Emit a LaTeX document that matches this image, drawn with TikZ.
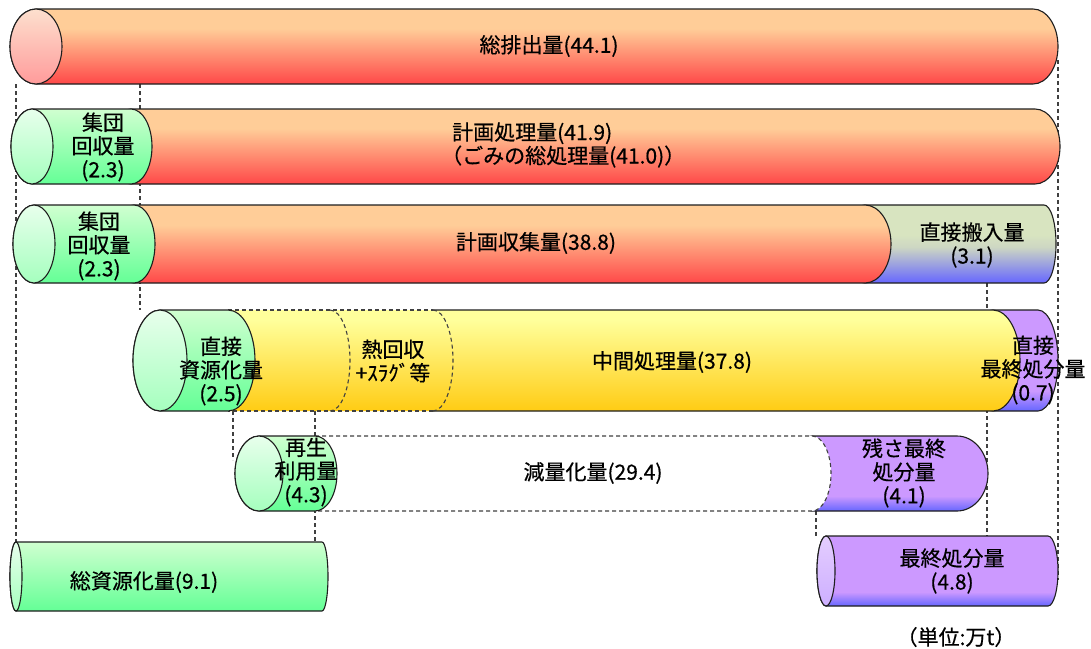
\documentclass[tikz,border=0pt]{standalone}
\usepackage{fontspec}
\setmainfont{Noto Sans CJK JP}[FakeBold=0.5]
\definecolor{peach}{RGB}{255,205,152}
\definecolor{redb}{RGB}{255,72,72}
\definecolor{pkTop}{RGB}{253,224,206}
\definecolor{pkBot}{RGB}{255,155,155}
\definecolor{gTop}{RGB}{208,255,208}
\definecolor{gBot}{RGB}{100,255,150}
\definecolor{gfTop}{RGB}{232,255,236}
\definecolor{gfBot}{RGB}{165,255,190}
\definecolor{yTop}{RGB}{255,255,155}
\definecolor{yBot}{RGB}{255,204,20}
\definecolor{pur}{RGB}{204,153,255}
\definecolor{pblue}{RGB}{102,102,255}
\definecolor{pfTop}{RGB}{228,205,255}
\definecolor{pfBot}{RGB}{205,175,255}
\definecolor{dgrn}{RGB}{216,228,192}
\definecolor{dgrnb}{RGB}{205,215,195}
\definecolor{edge}{RGB}{30,30,30}
\pgfdeclareverticalshading{redsh}{100bp}{color(0bp)=(redb); color(25bp)=(redb); color(62bp)=(peach); color(100bp)=(peach)}
\pgfdeclareverticalshading{pinkface}{100bp}{color(0bp)=(pkBot); color(25bp)=(pkBot); color(75bp)=(pkTop); color(100bp)=(pkTop)}
\pgfdeclareverticalshading{greensh}{100bp}{color(0bp)=(gBot); color(25bp)=(gBot); color(75bp)=(gTop); color(100bp)=(gTop)}
\pgfdeclareverticalshading{greenface}{100bp}{color(0bp)=(gfBot); color(25bp)=(gfBot); color(75bp)=(gfTop); color(100bp)=(gfTop)}
\pgfdeclareverticalshading{yellowsh}{100bp}{color(0bp)=(yBot); color(25bp)=(yBot); color(70bp)=(yTop); color(100bp)=(yTop)}
\pgfdeclareverticalshading{purplesh}{100bp}{color(0bp)=(pblue); color(25bp)=(pblue); color(35bp)=(pur); color(100bp)=(pur)}
\pgfdeclareverticalshading{purpleface}{100bp}{color(0bp)=(pfBot); color(25bp)=(pfBot); color(75bp)=(pfTop); color(100bp)=(pfTop)}
\pgfdeclareverticalshading{directsh}{100bp}{color(0bp)=(pblue); color(25bp)=(pblue); color(48bp)=(dgrnb); color(56bp)=(dgrn); color(100bp)=(dgrn)}
% body: #1 xl, #2 rx left, #3 xr, #4 rx right, #5 yc, #6 ry, #7 options
\newcommand\cylbody[7]{%
  \path[#7] (#1,#5-#6) -- (#3,#5-#6)
    arc[start angle=-90,end angle=90,x radius=#4,y radius=#6]
    -- (#1,#5+#6)
    arc[start angle=90,end angle=270,x radius=#2,y radius=#6] -- cycle;}
% face: #1 x, #2 y, #3 rx, #4 ry, #5 options
\newcommand\cylface[5]{\path[#5] (#1,#2) ellipse[x radius=#3,y radius=#4];}
\tikzset{
  outl/.style={draw=edge,line width=1.1pt},
  dline/.style={draw=edge!85,line width=1.1pt,dash pattern=on 4pt off 3pt},
  lbl/.style={inner sep=0pt,align=center,text=black,font=\fontsize{21}{23.5}\selectfont},
}
\begin{document}
\begin{tikzpicture}[x=1pt,y=-1pt]
\useasboundingbox (0,0) rectangle (1091,648);
% dashed guide lines (behind)
\coordinate (v1a) at (16,84);   \coordinate (v1b) at (16,542);
\coordinate (v2a) at (140,84);  \coordinate (v2b) at (140,310);
\coordinate (v3a) at (1058,60); \coordinate (v3b) at (1058,580);
\coordinate (v4a) at (987,283); \coordinate (v4b) at (987,536);
\coordinate (v5a) at (233,411); \coordinate (v5b) at (233,460);
\coordinate (v6a) at (315,411); \coordinate (v6b) at (315,542);
\coordinate (v7a) at (816,511); \coordinate (v7b) at (816,536);
\foreach \a/\b in {v1a/v1b,v2a/v2b,v3a/v3b,v4a/v4b,v5a/v5b,v6a/v6b,v7a/v7b}
  \draw[dline] (\a) -- (\b);

% Row 1
\cylbody{36}{26}{1033}{25}{46.5}{37.5}{shading=redsh,outl}
\cylface{36}{46.5}{26}{37.5}{shading=pinkface,outl}

% Row 2
\cylbody{131}{21}{1035}{25}{146.5}{37.5}{shading=redsh,outl}
\cylbody{32}{21}{131}{21}{146.5}{37.5}{shading=greensh,outl}
\cylface{32}{146.5}{21}{37.5}{shading=greenface,outl}

% Row 3
\cylbody{865}{20}{1044}{12}{244}{39}{shading=directsh,outl}
\cylbody{134}{21}{865}{26}{244}{39}{shading=redsh,outl}
\cylbody{34}{21}{134}{21}{244}{39}{shading=greensh,outl}
\cylface{34}{244}{21}{39}{shading=greenface,outl}

% Row 4
\cylbody{993}{27}{1038}{20}{360.5}{50.5}{shading=purplesh,outl}
\cylbody{228}{27}{993}{27}{360.5}{50.5}{shading=yellowsh}
\draw[dline] (228,310) -- (433,310);
\draw[dline] (433,411) -- (228,411);
\draw[outl] (433,310) -- (993,310) arc[start angle=-90,end angle=90,x radius=27,y radius=50.5] -- (433,411);
\draw[dline] (330,310) arc[start angle=-90,end angle=90,x radius=20,y radius=50.5];
\draw[dline] (433,310) arc[start angle=-90,end angle=90,x radius=20,y radius=50.5];
\cylbody{160}{27}{228}{27}{360.5}{50.5}{shading=greensh,outl}
\cylface{160}{360.5}{27}{50.5}{shading=greenface,outl}

% Row 5
\cylbody{812}{19}{957}{31}{473.5}{37.5}{shading=purplesh,outl}
\cylbody{315}{22}{812}{19}{473.5}{37.5}{fill=white}
\draw[dline] (315,436) -- (812,436) arc[start angle=-90,end angle=90,x radius=19,y radius=37.5] -- (315,511);
\cylbody{259}{24}{315}{22}{473.5}{37.5}{shading=greensh,outl}
\cylface{259}{473.5}{24}{37.5}{shading=greenface,outl}

% Row 6
\cylbody{16}{6}{322}{6}{576.5}{34.5}{shading=greensh,outl}
\cylface{16}{576.5}{6}{34.5}{shading=greenface,outl}
\cylbody{826}{9}{1048}{10}{571}{35}{shading=purplesh,outl}
\cylface{826}{571}{9}{35}{shading=purpleface,outl}

% Labels
\node[lbl] (t1) at (549,46) {総排出量(44.1)};
\node[lbl] (t2a) at (103,147) {集団\\回収量\\(2.3)};
\node[lbl,align=left,anchor=west] (t2) at (452,145) {計画処理量(41.9)\\\hspace*{-11pt}（ごみの総処理量(41.0)）};
\node[lbl] (t3a) at (99,246) {集団\\回収量\\(2.3)};
\node[lbl] (t3) at (536,243) {計画収集量(38.8)};
\node[lbl] (t3b) at (972,245) {直接搬入量\\(3.1)};
\node[lbl] (t4a) at (221,371) {直接\\資源化量\\(2.5)};
\node[lbl] (t4b) at (393,361) {熱回収\\+ｽﾗｸﾞ等};
\node[lbl] (t4) at (672,362) {中間処理量(37.8)};
\node[lbl] (t4c) at (1033,370) {直接\\最終処分量\\(0.7)};
\node[lbl] (t5a) at (306,472) {再生\\利用量\\(4.3)};
\node[lbl] (t5) at (593,473) {減量化量(29.4)};
\node[lbl] (t5b) at (904,473) {残さ最終\\処分量\\(4.1)};
\node[lbl] (t6a) at (144,582) {総資源化量(9.1)};
\node[lbl] (t6b) at (952,571) {最終処分量\\(4.8)};
\node[lbl] (unit) at (956,637) {（単位:万t）};
\end{tikzpicture}
\end{document}
